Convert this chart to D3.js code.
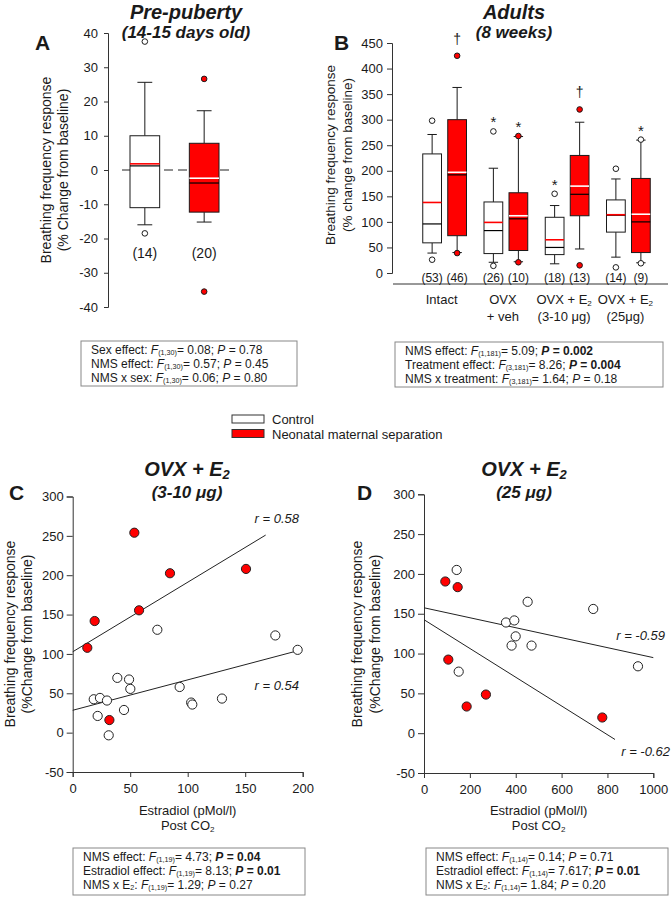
<!DOCTYPE html>
<html><head><meta charset="utf-8">
<script src="https://cdn.jsdelivr.net/npm/d3@7"></script>
<style>
body{margin:0;background:#fff}
svg{display:block}
text{font-family:"Liberation Sans",Arial,Helvetica,sans-serif;fill:#1a1a1a}
</style>
</head><body>
<svg id="chart" width="672" height="906"></svg>
<script>
// ---------------- DATA ----------------
// Panel A (pre-puberty) box plots
const aGroups = ["Control", "NMS"];
const aN = ["(14)", "(20)"];
const aQ1 = [-11, -12.3];
const aQ3 = [10, 7.8];
const aMedian = [1.2, -3.8];
const aMean = [1.8, -2.4];
const aWhiskerLow = [-16, -15.2];
const aWhiskerHigh = [25.6, 17.3];
const aOutliers = [[37.5, -18.5], [26.6, -35.5]];
const aTicks = [-40, -30, -20, -10, 0, 10, 20, 30, 40];

// Panel B (adults) box plots
const bCategories = ["Intact", "OVX + veh", "OVX + E2 (3-10 μg)", "OVX + E2 (25μg)"];
const bCatLine1 = ["Intact", "OVX", "OVX + E", "OVX + E"];
const bCatSub = ["", "", "2", "2"];
const bCatLine2 = ["", "+ veh", "(3-10 μg)", "(25μg)"];
const bGroupCat = [0, 0, 1, 1, 2, 2, 3, 3];
const bGroup = ["Control", "NMS", "Control", "NMS", "Control", "NMS", "Control", "NMS"];
const bN = ["(53)", "(46)", "(26)", "(10)", "(18)", "(13)", "(14)", "(9)"];
const bQ1 = [59, 73, 38, 44, 36, 112, 80, 40];
const bQ3 = [233, 300, 139, 157, 109, 230, 143, 185];
const bMedian = [96, 192, 83, 106, 50, 154, 113, 100];
const bMean = [138, 197, 99, 112, 65, 170, 114, 115];
const bWhiskerLow = [39, 40, 21, 22, 18, 47, 31, 20];
const bWhiskerHigh = [271, 363, 205, 267, 132, 295, 184, 260];
const bOutliers = [[298, 26], [425, 39], [277, 14], [268, 21], [155], [320, 15], [204, 11], [261, 19]];
const bOpenOutlierNMS = [false, false, false, false, false, false, false, true];
const bSignif = ["", "†", "*", "*", "*", "†", "", "*"];
const bTicks = [0, 50, 100, 150, 200, 250, 300, 350, 400, 450];

// Panel C (OVX + E2 3-10 µg) scatter
const cControlX = [73.6, 176.2, 195.6, 38.8, 49, 50.1, 93, 18.3, 23.7, 29.8, 44.6, 21.7, 31.3, 103, 104, 129.8];
const cControlY = [130.7, 123.5, 105.2, 69.6, 67.5, 55.6, 58, 42.4, 44.1, 40.8, 28.8, 21.2, -3.4, 38.2, 35.7, 43.3];
const cNmsX = [53.6, 84.6, 150.7, 57.7, 19.1, 12.7, 31.9];
const cNmsY = [254, 202.5, 208, 155.4, 141.8, 107.8, 16];
const cFitControlX = [0, 195.6];
const cFitControlY = [28.4, 104];
const cFitNmsX = [0, 167.8];
const cFitNmsY = [102.7, 251];
const cXTicks = [0, 50, 100, 150, 200];

// Panel D (OVX + E2 25 µg) scatter
const dControlX = [142.5, 452, 738, 357.6, 393.8, 399.8, 382, 469, 933.2, 151.3];
const dControlY = [205, 165, 156, 139, 141.6, 121.6, 110, 110, 84, 77.3];
const dNmsX = [92.9, 146.8, 106, 186, 270, 777.5];
const dNmsY = [190.5, 183.4, 92.4, 33.5, 48.5, 19.7];
const dFitControlX = [0, 1000];
const dFitControlY = [157.5, 94.9];
const dFitNmsX = [0, 833];
const dFitNmsY = [142.5, -7.9];
const dXTicks = [0, 200, 400, 600, 800, 1000];
const scatterYTicks = [-50, 0, 50, 100, 150, 200, 250, 300];

// Legend
const legendLabels = ["Control", "Neonatal maternal separation"];

// Statistics text (segments: text, style  i=italic b=bold s=subscript)
const statsA = [
  [["Sex effect: ", ""], ["F", "i"], ["(1,30)", "s"], ["= 0.08; ", ""], ["P", "i"], [" = 0.78", ""]],
  [["NMS effect: ", ""], ["F", "i"], ["(1,30)", "s"], ["= 0.57; ", ""], ["P", "i"], [" = 0.45", ""]],
  [["NMS x sex: ", ""], ["F", "i"], ["(1,30)", "s"], ["= 0.06; ", ""], ["P", "i"], [" = 0.80", ""]]
];
const statsB = [
  [["NMS effect: ", ""], ["F", "i"], ["(1,181)", "s"], ["= 5.09; ", ""], ["P", "bi"], [" = 0.002", "b"]],
  [["Treatment effect: ", ""], ["F", "i"], ["(3,181)", "s"], ["= 8.26; ", ""], ["P", "bi"], [" = 0.004", "b"]],
  [["NMS x treatment: ", ""], ["F", "i"], ["(3,181)", "s"], ["= 1.64; ", ""], ["P", "i"], [" = 0.18", ""]]
];
const statsC = [
  [["NMS effect: ", ""], ["F", "i"], ["(1,19)", "s"], ["= 4.73; ", ""], ["P", "bi"], [" = 0.04", "b"]],
  [["Estradiol effect: ", ""], ["F", "i"], ["(1,19)", "s"], ["= 8.13; ", ""], ["P", "bi"], [" = 0.01", "b"]],
  [["NMS x E", ""], ["2", "s"], [": ", ""], ["F", "i"], ["(1,19)", "s"], ["= 1.29; ", ""], ["P", "i"], [" = 0.27", ""]]
];
const statsD = [
  [["NMS effect: ", ""], ["F", "i"], ["(1,14)", "s"], ["= 0.14; ", ""], ["P", "i"], [" = 0.71", ""]],
  [["Estradiol effect: ", ""], ["F", "i"], ["(1,14)", "s"], ["= 7.617; ", ""], ["P", "bi"], [" = 0.01", "b"]],
  [["NMS x E", ""], ["2", "s"], [": ", ""], ["F", "i"], ["(1,14)", "s"], ["= 1.84; ", ""], ["P", "i"], [" = 0.20", ""]]
];

// ---------------- DRAWING ----------------
const RED = "#ff0000";
const INK = "#1a1a1a";
const AXIS = "#333";
const svg = d3.select("#chart");
const plainFmt = d => String(d);

function rich(parent, x, y, segs, size, anchor, subScale, subShift) {
  const ss = subScale || 0.62, sh = subShift === undefined ? 0.18 : subShift;
  const t = parent.append("text").attr("x", x).attr("y", y)
    .attr("font-size", size).attr("text-anchor", anchor || "start");
  let shift = 0;
  segs.forEach(([s, st]) => {
    const ts = t.append("tspan").text(s);
    const sub = st.indexOf("s") >= 0;
    const target = sub ? size * sh : 0;
    if (target !== shift) { ts.attr("dy", target - shift); shift = target; }
    if (sub) ts.attr("font-size", size * ss);
    if (st.indexOf("i") >= 0) ts.attr("font-style", "italic");
    if (st.indexOf("b") >= 0) ts.attr("font-weight", "bold");
  });
  return t;
}

function styleAxis(g, fs) {
  g.select(".domain").attr("stroke", AXIS).attr("stroke-width", 1);
  g.selectAll(".tick line").attr("stroke", AXIS);
  g.selectAll(".tick text").attr("font-size", fs).attr("fill", INK)
    .attr("font-family", "'Liberation Sans',Arial,sans-serif");
}

function yLabel(x1, x2, yc, l1, l2, fs) {
  svg.append("text").attr("transform", `translate(${x1},${yc}) rotate(-90)`)
    .attr("text-anchor", "middle").attr("dominant-baseline", "central").attr("font-size", fs).text(l1);
  svg.append("text").attr("transform", `translate(${x2},${yc}) rotate(-90)`)
    .attr("text-anchor", "middle").attr("dominant-baseline", "central").attr("font-size", fs).text(l2);
}

function title(x, y1, y2, l1, l1sub, l2) {
  const segs = [[l1, "bi"]];
  if (l1sub) segs.push([l1sub, "bis"]);
  rich(svg, x, y1, segs, 20, "middle", 0.65, 0.15);
  rich(svg, x, y2, [[l2, "bi"]], 17, "middle");
}

function panelLetter(x, y, s) {
  svg.append("text").attr("x", x).attr("y", y).attr("font-size", 21)
    .attr("font-weight", "bold").text(s);
}

function drawBox(g, cx, w, y, q1, q3, med, mean, wl, wh, outs, isNms, openOut) {
  const sw = 1;
  g.append("line").attr("x1", cx).attr("x2", cx).attr("y1", y(q3)).attr("y2", y(wh)).attr("stroke", INK).attr("stroke-width", sw);
  g.append("line").attr("x1", cx).attr("x2", cx).attr("y1", y(q1)).attr("y2", y(wl)).attr("stroke", INK).attr("stroke-width", sw);
  g.append("line").attr("x1", cx - w / 4).attr("x2", cx + w / 4).attr("y1", y(wh)).attr("y2", y(wh)).attr("stroke", INK).attr("stroke-width", sw);
  g.append("line").attr("x1", cx - w / 4).attr("x2", cx + w / 4).attr("y1", y(wl)).attr("y2", y(wl)).attr("stroke", INK).attr("stroke-width", sw);
  g.append("rect").attr("x", cx - w / 2).attr("y", y(q3)).attr("width", w).attr("height", y(q1) - y(q3))
    .attr("fill", isNms ? RED : "#fff").attr("stroke", INK).attr("stroke-width", sw);
  g.append("line").attr("x1", cx - w / 2).attr("x2", cx + w / 2).attr("y1", y(med)).attr("y2", y(med)).attr("stroke", "#000").attr("stroke-width", 1.2);
  g.append("line").attr("x1", cx - w / 2).attr("x2", cx + w / 2).attr("y1", y(mean)).attr("y2", y(mean))
    .attr("stroke", isNms ? "#fff" : RED).attr("stroke-width", 1.6);
  outs.forEach(v => {
    g.append("circle").attr("cx", cx).attr("cy", y(v)).attr("r", 2.8)
      .attr("fill", isNms && !openOut ? RED : "#fff").attr("stroke", INK).attr("stroke-width", 1);
  });
}

// ===== Panel A =====
const aY = d3.scaleLinear().domain([-40, 40]).range([307, 33]);
const aX = d3.scaleBand().domain(aGroups).range([130, 219]).paddingInner(0.5);
const gAy = svg.append("g").attr("transform", "translate(108,0)")
  .call(d3.axisLeft(aY).tickValues(aTicks).tickFormat(plainFmt).tickSize(4).tickSizeOuter(4).tickPadding(6));
styleAxis(gAy, 13);
svg.append("line").attr("x1", 122).attr("x2", 233).attr("y1", aY(0)).attr("y2", aY(0))
  .attr("stroke", "#222").attr("stroke-width", 1).attr("stroke-dasharray", "9,5");
const gA = svg.append("g");
aGroups.forEach((grp, i) => {
  const cx = aX(grp) + aX.bandwidth() / 2;
  drawBox(gA, cx, aX.bandwidth(), aY, aQ1[i], aQ3[i], aMedian[i], aMean[i], aWhiskerLow[i], aWhiskerHigh[i], aOutliers[i], i === 1, false);
  gA.append("text").attr("x", cx).attr("y", 258).attr("text-anchor", "middle").attr("font-size", 14).text(aN[i]);
});
yLabel(46, 63, 170, "Breathing frequency response", "(% Change from baseline)", 14);
title(186, 18.5, 38, "Pre-puberty", "", "(14-15 days old)");
panelLetter(35, 50, "A");

// ===== Panel B =====
const bY = d3.scaleLinear().domain([0, 450]).range([273, 43]);
const bXc = d3.scaleBand().domain(bCategories).range([414, 659]);
const bXg = d3.scaleBand().domain(["Control", "NMS"]).range([0, bXc.bandwidth()]).paddingInner(0.25).paddingOuter(0.35);
const gBy = svg.append("g").attr("transform", "translate(392,0)")
  .call(d3.axisLeft(bY).tickValues(bTicks).tickFormat(plainFmt).tickSize(5).tickSizeOuter(5).tickPadding(4));
styleAxis(gBy, 13);
svg.append("line").attr("x1", 393).attr("x2", 668).attr("y1", 284).attr("y2", 284).attr("stroke", AXIS);
const gB = svg.append("g");
bGroup.forEach((grp, i) => {
  const cat = bCategories[bGroupCat[i]];
  const cx = bXc(cat) + bXg(grp) + bXg.bandwidth() / 2;
  const isNms = grp === "NMS";
  drawBox(gB, cx, bXg.bandwidth(), bY, bQ1[i], bQ3[i], bMedian[i], bMean[i], bWhiskerLow[i], bWhiskerHigh[i], bOutliers[i], isNms, bOpenOutlierNMS[i]);
  gB.append("text").attr("x", cx).attr("y", 282).attr("text-anchor", "middle").attr("font-size", 12).text(bN[i]);
  if (bSignif[i]) {
    const top = d3.max([bWhiskerHigh[i]].concat(bOutliers[i]));
    const dag = bSignif[i] === "†";
    gB.append("text").attr("x", cx).attr("y", bY(top) - (dag ? 12 : 4)).attr("text-anchor", "middle")
      .attr("font-size", dag ? 14 : 15).attr("fill", "#333").text(bSignif[i]);
  }
});
bCategories.forEach((cat, k) => {
  const cx = bXc(cat) + bXc.bandwidth() / 2 - 3;
  const segs = [[bCatLine1[k], ""]];
  if (bCatSub[k]) segs.push([bCatSub[k], "s"]);
  rich(svg, cx, 304, segs, 13, "middle", 0.62, 0.17);
  if (bCatLine2[k]) svg.append("text").attr("x", cx).attr("y", 321).attr("text-anchor", "middle").attr("font-size", 13).text(bCatLine2[k]);
});
yLabel(330, 347, 155, "Breathing frequency response", "(% change from baseline)", 13.5);
title(514, 18.5, 38, "Adults", "", "(8 weeks)");
panelLetter(334, 50, "B");

// ===== Stats boxes =====
function statsBox(x, y, w, h, lines) {
  svg.append("rect").attr("x", x).attr("y", y).attr("width", w).attr("height", h)
    .attr("fill", "#fff").attr("stroke", "#888").attr("stroke-width", 1);
  lines.forEach((segs, i) => rich(svg, x + 10, y + 12.5 + i * 14, segs, 12, "start", 0.6, 0.13));
}
statsBox(81, 341, 216, 45, statsA);
statsBox(395, 342, 268, 45, statsB);

// ===== Legend =====
legendLabels.forEach((lab, i) => {
  svg.append("rect").attr("x", 232).attr("y", 415 + i * 14.5).attr("width", 32).attr("height", 8)
    .attr("fill", i ? RED : "#fff").attr("stroke", "#333").attr("stroke-width", 1);
  svg.append("text").attr("x", 272).attr("y", 424 + i * 14.5).attr("font-size", 13).text(lab);
});

// ===== Scatter panels =====
function scatterPanel(xs, ys, xTicks, cX, cY, nX, nY, fcX, fcY, fnX, fnY) {
  const gx = svg.append("g").attr("transform", `translate(0,${ys.range()[0]})`)
    .call(d3.axisBottom(xs).tickValues(xTicks).tickFormat(plainFmt).tickSize(5).tickSizeOuter(5).tickPadding(7));
  styleAxis(gx, 13);
  const gy = svg.append("g").attr("transform", `translate(${xs.range()[0]},0)`)
    .call(d3.axisLeft(ys).tickValues(scatterYTicks).tickFormat(plainFmt).tickSize(6).tickSizeOuter(6).tickPadding(3));
  styleAxis(gy, 13);
  const line = d3.line().x(d => xs(d[0])).y(d => ys(d[1]));
  svg.append("path").attr("d", line(d3.zip(fcX, fcY))).attr("stroke", "#222").attr("stroke-width", 1).attr("fill", "none");
  svg.append("path").attr("d", line(d3.zip(fnX, fnY))).attr("stroke", "#222").attr("stroke-width", 1).attr("fill", "none");
  const g = svg.append("g");
  d3.zip(cX, cY).forEach(p => g.append("circle").attr("cx", xs(p[0])).attr("cy", ys(p[1])).attr("r", 4.6)
    .attr("fill", "#fff").attr("stroke", "#222").attr("stroke-width", 1));
  d3.zip(nX, nY).forEach(p => g.append("circle").attr("cx", xs(p[0])).attr("cy", ys(p[1])).attr("r", 4.6)
    .attr("fill", RED).attr("stroke", "#222").attr("stroke-width", 1));
  const mid = (xs.range()[0] + xs.range()[1]) / 2;
  svg.append("text").attr("x", mid).attr("y", 815).attr("text-anchor", "middle").attr("font-size", 13).text("Estradiol (pMol/l)");
  rich(svg, mid, 830, [["Post CO", ""], ["2", "s"]], 13, "middle");
}

const cX = d3.scaleLinear().domain([0, 200]).range([72.7, 302.7]);
const cY = d3.scaleLinear().domain([-50, 300]).range([772, 496.5]);
scatterPanel(cX, cY, cXTicks, cControlX, cControlY, cNmsX, cNmsY, cFitControlX, cFitControlY, cFitNmsX, cFitNmsY);
svg.append("text").attr("x", 299).attr("y", 523).attr("text-anchor", "end").attr("font-size", 13).attr("font-style", "italic").text("r = 0.58");
svg.append("text").attr("x", 299).attr("y", 690).attr("text-anchor", "end").attr("font-size", 13).attr("font-style", "italic").text("r = 0.54");
yLabel(10, 27, 634, "Breathing frequency response", "(%Change from baseline)", 14);
title(187, 476, 498, "OVX + E", "2", "(3-10 μg)");
panelLetter(9, 500, "C");

const dX = d3.scaleLinear().domain([0, 1000]).range([424, 653.3]);
const dY = d3.scaleLinear().domain([-50, 300]).range([773, 494.3]);
scatterPanel(dX, dY, dXTicks, dControlX, dControlY, dNmsX, dNmsY, dFitControlX, dFitControlY, dFitNmsX, dFitNmsY);
svg.append("text").attr("x", 665).attr("y", 640).attr("text-anchor", "end").attr("font-size", 13).attr("font-style", "italic").text("r = -0.59");
svg.append("text").attr("x", 670).attr("y", 756).attr("text-anchor", "end").attr("font-size", 13).attr("font-style", "italic").text("r = -0.62");
yLabel(357, 375, 634, "Breathing frequency response", "(%Change from baseline)", 14);
title(524, 476, 498, "OVX + E", "2", "(25 μg)");
panelLetter(357, 500, "D");

statsBox(73, 848, 232, 47, statsC);
statsBox(426, 848, 242, 47, statsD);
</script>
</body></html>
